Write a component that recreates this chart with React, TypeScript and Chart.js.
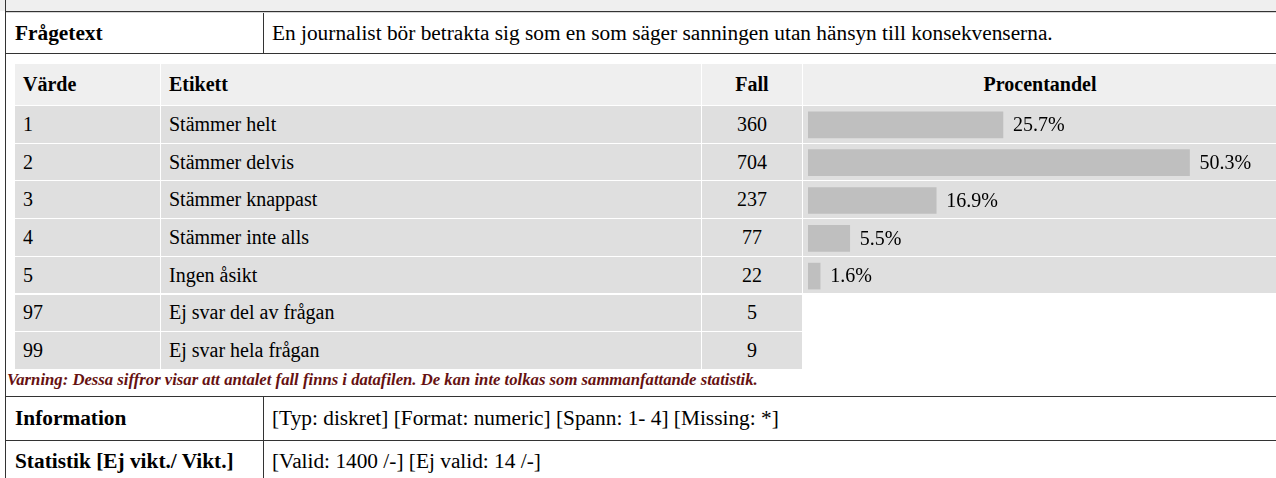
import React, { useEffect, useRef } from "react";
import { Chart, registerables } from "chart.js";

Chart.register(...registerables);

const values = ["1", "2", "3", "4", "5", "97", "99"];
const labels = [
  "Stämmer helt",
  "Stämmer delvis",
  "Stämmer knappast",
  "Stämmer inte alls",
  "Ingen åsikt",
  "Ej svar del av frågan",
  "Ej svar hela frågan",
];
const cases = [360, 704, 237, 77, 22, 5, 9];
const percentCategories = ["1", "2", "3", "4", "5"];
const percentages = [25.7, 50.3, 16.9, 5.5, 1.6];

const question =
  "En journalist bör betrakta sig som en som säger sanningen utan hänsyn till konsekvenserna.";
const warning =
  "Varning: Dessa siffror visar att antalet fall finns i datafilen. De kan inte tolkas som sammanfattande statistik.";
const infoText = "[Typ: diskret] [Format: numeric] [Spann: 1- 4] [Missing: *]";
const statText = "[Valid: 1400 /-] [Ej valid: 14 /-]";

const FONT = '"Liberation Serif", "Times New Roman", serif';
const DARK = "#333333";
const HEAD_BG = "#efefef";
const ROW_BG = "#dfdfdf";
const BAR = "#bfbfbf";
const OUTER_SIZE = 21.33;

const ROW_TOP = 106;
const ROW_STEP = 37.7;
const ROW_H = 36.7;

const cols = [
  { left: 15, width: 145 },
  { left: 161, width: 540 },
  { left: 702, width: 100 },
  { left: 803, width: 480 },
];

function abs(left: number, top: number, width: number, height: number, extra: React.CSSProperties = {}): React.CSSProperties {
  return { position: "absolute", left, top, width, height, ...extra };
}

export default function App() {
  const canvasRef = useRef<HTMLCanvasElement | null>(null);

  useEffect(() => {
    const canvas = canvasRef.current;
    if (!canvas) return;
    const labelPlugin = {
      id: "barLabels",
      afterDatasetsDraw(chart: any) {
        const ctx = chart.ctx;
        const meta = chart.getDatasetMeta(0);
        ctx.save();
        ctx.font = `20px ${FONT}`;
        ctx.fillStyle = "#000";
        ctx.textAlign = "left";
        ctx.textBaseline = "middle";
        meta.data.forEach((bar: any, i: number) => {
          const v = chart.data.datasets[0].data[i] as number;
          ctx.fillText(`${v.toFixed(1)}%`, bar.x + 10, bar.y + 1);
        });
        ctx.restore();
      },
    };
    const chart = new Chart(canvas, {
      type: "bar",
      data: {
        labels: percentCategories,
        datasets: [
          {
            data: percentages,
            backgroundColor: BAR,
            borderWidth: 0,
            barThickness: 26,
          },
        ],
      },
      options: {
        indexAxis: "y",
        responsive: false,
        animation: false,
        layout: { padding: { left: 5, right: 0, top: 0, bottom: 0 } },
        plugins: { legend: { display: false }, tooltip: { enabled: false } },
        scales: {
          x: { display: false, min: 0, max: 61.7 },
          y: { display: false, offset: true },
        },
      },
      plugins: [labelPlugin],
    });
    return () => chart.destroy();
  }, []);

  const textBase: React.CSSProperties = {
    fontFamily: FONT,
    fontSize: 20,
    color: "#000",
    whiteSpace: "nowrap",
    display: "flex",
    alignItems: "center",
    boxSizing: "border-box",
  };
  const outerText: React.CSSProperties = { ...textBase, fontSize: OUTER_SIZE };

  const rows = values.map((v, i) => {
    const top = ROW_TOP + i * ROW_STEP;
    const hasBar = i < percentages.length;
    return (
      <React.Fragment key={v}>
        <div style={{ ...abs(cols[0].left, top, cols[0].width, ROW_H), ...textBase, background: ROW_BG, paddingLeft: 8 }}>{v}</div>
        <div style={{ ...abs(cols[1].left, top, cols[1].width, ROW_H), ...textBase, background: ROW_BG, paddingLeft: 8 }}>{labels[i]}</div>
        <div style={{ ...abs(cols[2].left, top, cols[2].width, ROW_H), ...textBase, background: ROW_BG, justifyContent: "center" }}>{cases[i]}</div>
        {hasBar && <div style={{ ...abs(cols[3].left, top, cols[3].width, ROW_H), background: ROW_BG }} />}
      </React.Fragment>
    );
  });

  return (
    <div style={{ position: "absolute", left: 0, top: 0, width: 1276, height: 478, overflow: "hidden", background: "#fff" }}>
      {/* top band */}
      <div style={{ ...abs(0, 0, 1276, 11), background: HEAD_BG }} />
      <div style={{ ...abs(5, 11, 1271, 1), background: DARK }} />
      <div style={{ ...abs(5, 12, 1271, 1), background: "#d6d6d6" }} />
      {/* left border */}
      <div style={{ ...abs(5, 0, 1, 478), background: DARK }} />

      {/* Frågetext row */}
      <div style={{ ...abs(6, 13, 257, 40), ...outerText, fontWeight: "bold", paddingLeft: 9 }}>Frågetext</div>
      <div style={{ ...abs(263, 13, 1, 40), background: DARK }} />
      <div style={{ ...abs(264, 13, 1000, 40), ...outerText, paddingLeft: 8 }}>{question}</div>
      <div style={{ ...abs(5, 53, 1271, 1), background: DARK }} />

      {/* header row */}
      <div style={{ ...abs(cols[0].left, 64, cols[0].width, 41), ...textBase, background: HEAD_BG, fontWeight: "bold", paddingLeft: 8 }}>Värde</div>
      <div style={{ ...abs(cols[1].left, 64, cols[1].width, 41), ...textBase, background: HEAD_BG, fontWeight: "bold", paddingLeft: 8 }}>Etikett</div>
      <div style={{ ...abs(cols[2].left, 64, cols[2].width, 41), ...textBase, background: HEAD_BG, fontWeight: "bold", justifyContent: "center" }}>Fall</div>
      <div style={{ ...abs(cols[3].left, 64, 474, 41), ...textBase, background: HEAD_BG, fontWeight: "bold", justifyContent: "center" }}>Procentandel</div>

      {rows}

      <canvas
        ref={canvasRef}
        width={473}
        height={189}
        style={{ position: "absolute", left: 803, top: 106, width: 473, height: 189 }}
      />

      {/* warning */}
      <div
        style={{
          ...abs(7, 370, 900, 20),
          ...textBase,
          fontSize: 16.7,
          fontStyle: "italic",
          fontWeight: "bold",
          color: "#661111",
        }}
      >
        {warning}
      </div>

      {/* info rows */}
      <div style={{ ...abs(5, 396, 1271, 1), background: DARK }} />
      <div style={{ ...abs(6, 397, 257, 43), ...outerText, fontWeight: "bold", paddingLeft: 9 }}>Information</div>
      <div style={{ ...abs(263, 397, 1, 43), background: DARK }} />
      <div style={{ ...abs(264, 397, 1000, 43), ...outerText, paddingLeft: 8 }}>{infoText}</div>
      <div style={{ ...abs(5, 440, 1271, 1), background: DARK }} />
      <div style={{ ...abs(6, 441, 257, 40), ...outerText, fontWeight: "bold", paddingLeft: 9 }}>Statistik [Ej vikt./ Vikt.]</div>
      <div style={{ ...abs(263, 441, 1, 40), background: DARK }} />
      <div style={{ ...abs(264, 441, 1000, 40), ...outerText, paddingLeft: 8 }}>{statText}</div>
    </div>
  );
}
